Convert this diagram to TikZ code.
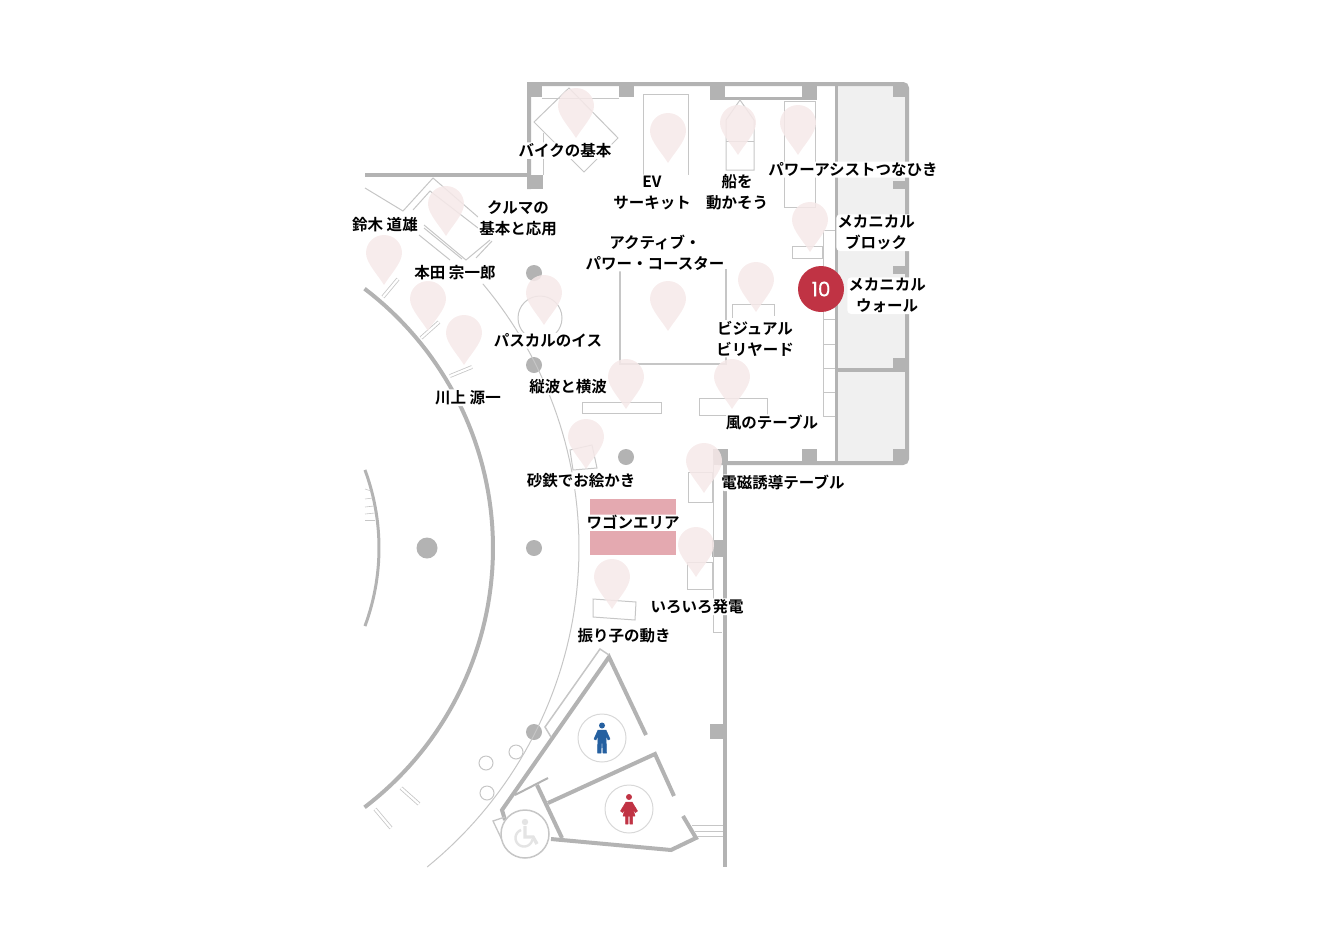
\documentclass[tikz,border=0pt]{standalone}
\usepackage{fontspec}
\usepackage{xcolor}
\setmainfont{Noto Sans CJK JP}[BoldFont=* Bold]
\newfontfamily\numfont{Poppins}[FakeBold=0.4]
\definecolor{wallgray}{HTML}{B3B3B3}
\definecolor{linegray}{HTML}{C6C6C6}
\definecolor{roomgray}{HTML}{F0F0F0}
\definecolor{pinpink}{HTML}{F6E9E9}
\definecolor{wagonpink}{HTML}{E4A9B0}
\definecolor{manblue}{HTML}{2560A0}
\definecolor{signred}{HTML}{C03344}
\tikzset{
  wall/.style={draw=wallgray,line width=4pt},
  thinline/.style={draw=linegray,line width=1pt},
  strip/.style={draw=linegray,double=white,double distance=2.2pt,line width=.8pt},
  label/.style={fill=white,rounded corners=4pt,inner sep=1pt,align=center,yshift=-.7pt,
    font=\fontsize{15.5}{21}\selectfont\bfseries},
  pinmark/.pic={
    \fill[pinpink,opacity=.85] (0,0) .. controls (-6,-10) and (-18,-22) .. (-18,-32)
      .. controls (-18,-42) and (-10,-50) .. (0,-50)
      .. controls (10,-50) and (18,-42) .. (18,-32)
      .. controls (18,-22) and (6,-10) .. (0,0);
  }
}
\begin{document}
\begin{tikzpicture}[x=1pt,y=-1pt]
\useasboundingbox (0,0) rectangle (1328,940);
%rooms
\fill[roomgray] (838,86) rectangle (906,461);
\fill[wagonpink] (590,499) rectangle (676,555);
%walls
\draw[wall] (529,189)--(529,84) [rounded corners=4pt]--(907,84)--(907,463) [sharp corners]--(718,463);
\draw[wall] (725,463)--(725,867);
\draw[wall,line width=3.5pt] (836.5,84)--(836.5,463);
\draw[wall,line width=3.5pt] (838,370)--(906,370);
\draw[wall] (365,175)--(529,175);
\draw[thinline] (542,98.5)--(619,98.5);
\draw[wall,line width=3pt] (725,98.5)--(802,98.5);
\draw[thinline] (543,133)--(543,175);
%columns
\fill[wallgray] (527,82) rectangle (542,97);
\fill[wallgray] (619,86) rectangle (634,97);
\fill[wallgray] (710,86) rectangle (725,100);
\fill[wallgray] (802,86) rectangle (817,100);
\fill[wallgray] (893,86) rectangle (906,97);
\fill[wallgray] (893,181) rectangle (906,189);
\fill[wallgray] (893,266) rectangle (906,274);
\fill[wallgray] (893,358) rectangle (906,370);
\fill[wallgray] (893,449) rectangle (906,461);
\fill[wallgray] (802,449) rectangle (817,461);
\fill[wallgray] (713,449) rectangle (728,465);
\fill[wallgray] (527,175) rectangle (543,189);
\fill[wallgray] (712,540) rectangle (723,557);
\fill[wallgray] (710,724) rectangle (723,739);
%pillars
\fill[wallgray] (534,273) circle(8);
\fill[wallgray] (534,365) circle(8);
\fill[wallgray] (626,457) circle(8);
\fill[wallgray] (534,548) circle(8);
\fill[wallgray] (427,548) circle(10.5);
\fill[wallgray] (534,732) circle(8);
%arcs
\draw[wall] plot[domain=-52.7:52.7,samples=70] ({167+326*cos(\x)},{548+326*sin(\x)});
\draw[wall,line width=3pt] plot[domain=-20.4:20.4,samples=30] ({155+224*cos(\x)},{548+224*sin(\x)});
\draw[thinline] plot[domain=-40:50.9,samples=70] ({168+411*cos(\x)},{548+411*sin(\x)});
\draw[thinline,line width=.6pt] (365,489)--(371,491);
\draw[thinline,line width=.6pt] (365,499)--(373,498);
\draw[thinline,line width=.6pt] (365,507)--(374,506);
\draw[thinline,line width=.6pt] (365,514)--(375,513);
\draw[thinline,line width=.6pt] (365,520)--(375,520);
%exhibits
\draw[thinline] (569,88)--(618,138)--(584,172)--(534,122)--cycle;
\draw[thinline] (643,205)--(643,94)--(688,94)--(688,205);
\draw[thinline] (726,170)--(726,120)--(740,100)--(754,120)--(754,170)--cycle;
\draw[thinline] (726,141)--(754,141);
\draw[thinline] (784,207)--(784,101)--(815,101)--(815,207)--cycle;
\draw[thinline] (792,246) rectangle (822,258);
\draw[thinline] (835,230)--(823,230)--(823,416)--(835,416);
\draw[thinline] (823,319)--(835,319);
\draw[thinline] (823,344)--(835,344);
\draw[thinline] (823,368)--(835,368);
\draw[thinline] (823,392)--(835,392);
\draw[thinline] (732,318)--(732,304)--(774,304)--(774,316);
\draw[thinline,line width=1.3pt] (620,270)--(620,364)--(726,364)--(726,269);
\draw[thinline] (582,402) rectangle (661,413);
\draw[thinline] (699,398) rectangle (767,415);
\draw[thinline] (570,450)--(592,445)--(597,468)--(573,470)--cycle;
\draw[thinline] (688,472) rectangle (712,502);
\draw[thinline] (687,562) rectangle (712,589);
\draw[thinline] (593,599)--(636,602)--(635,620)--(593,617)--cycle;
\draw[thinline] (713,460)--(713,632)--(722,632);
%car corner
\draw[thinline] (365,188)--(403,211)--(433,178)--(478,217);
\draw[thinline] (413,210)--(430,191)--(478,228);
\draw[thinline] (424,225)--(466,260)--(490,240);
\draw[thinline] (424,228)--(462,259);
\draw[thinline] (419,235)--(450,260);
\draw[thinline] (476,258)--(492,241);
\draw[thinline] (540,318) circle(22);
%benches
\draw[strip] (383,297)--(398,279);
\draw[strip] (421,338)--(439,322);
\draw[strip] (450,376)--(472,367);
\draw[strip] (401,788)--(419,804);
\draw[strip] (375,809)--(391,828);
%toilets
\draw[wall] (646,735)--(609,657)--(502,810)--(505,820);
\draw[thinline,line width=1.5pt] (609,655)--(600,649)--(545,727)--(551,737);
\draw[wall] (548,803)--(655,754)--(674,796);
\draw[wall] (683,816)--(696,838)--(671,850)--(551,839);
\draw[wall] (537,785)--(562,838);
\draw[wall,line width=2pt] (515,795)--(548,778);
\draw[thinline,line width=1.3pt] (505,817)--(493,821)--(502,840);
\draw[thinline] (692,825)--(723,825);
\draw[thinline] (695,831)--(723,831);
\draw[thinline] (697,836)--(723,836);
\draw[thinline] (516,752) circle(7);
\draw[thinline] (486,763) circle(7);
\draw[thinline] (487,793) circle(7);
\draw[roomgray!90!black,line width=1pt] (602,738) circle(24);
\draw[roomgray!90!black,line width=1pt] (629,809) circle(24);
%man
\fill[manblue] (602,725.5) circle(3);
\fill[manblue,line join=round,draw=manblue,line width=.5pt] (598,730)--(606,730)--(610,739)--(608,740)--(606,735)--(606.5,753)--(603,753)--(602.5,743)--(601.5,743)--(601,753)--(597.5,753)--(598,735)--(596,740)--(594,739)--cycle;
%woman
\fill[signred] (629,797) circle(3);
\fill[signred,line join=round,draw=signred,line width=.5pt] (626,802)--(632,802)--(637.5,811)--(635.5,812.5)--(633,809)--(635,816)--(632.5,816)--(632.5,824)--(629.8,824)--(629.8,816)--(628.2,816)--(628.2,824)--(625.5,824)--(625.5,816)--(623,816)--(625,809)--(622.5,812.5)--(620.5,811)--cycle;
%wheelchair
\filldraw[fill=white,draw=linegray,line width=1.5pt] (525,834) circle(24);
\fill[roomgray!95!black] (525,822) circle(3.2);
\draw[roomgray!95!black,line width=3.4pt] (525,826)--(525,837)--(533,837)--(537,844);
\draw[roomgray!95!black,line width=2.4pt] plot[domain=110:350,samples=25] ({524+8.5*cos(\x)},{838-8.5*sin(\x)});
%pins
\pic at (576,138) {pinmark};
\pic at (668,163) {pinmark};
\pic at (738,155) {pinmark};
\pic at (798,155) {pinmark};
\pic at (810,252) {pinmark};
\pic at (756,312) {pinmark};
\pic at (668,331) {pinmark};
\pic at (626,409) {pinmark};
\pic at (732,409) {pinmark};
\pic at (586,469) {pinmark};
\pic at (704,493) {pinmark};
\pic at (696,577) {pinmark};
\pic at (612,609) {pinmark};
\pic at (446,236) {pinmark};
\pic at (384,285) {pinmark};
\pic at (428,331) {pinmark};
\pic at (464,365) {pinmark};
\pic at (544,325) {pinmark};
%labels
\node[label] (bike) at (565,150) {バイクの基本};
\node[label] (ev) at (652,192) {EV\\サーキット};
\node[label] (ship) at (737,191) {船を\\動かそう};
\node[label] (assist) at (853,169) {パワーアシストつなひき};
\node[label] (block) at (876,232) {メカニカル\\ブロック};
\node[label] (car) at (518,218) {クルマの\\基本と応用};
\node[label] (suzuki) at (385,224) {鈴木 道雄};
\node[label] (honda) at (455,272) {本田 宗一郎};
\node[label] (coaster) at (655,252) {アクティブ・\\パワー・コースター};
\node[label] (mwall) at (887,295) {メカニカル\\ウォール};
\node[label] (billiard) at (755,338) {ビジュアル\\ビリヤード};
\node[label] (pascal) at (548,340) {パスカルのイス};
\node[label] (wave) at (568,386) {縦波と横波};
\node[label] (kawakami) at (468,397) {川上 源一};
\node[label] (wind) at (772,422) {風のテーブル};
\node[label] (sand) at (581,480) {砂鉄でお絵かき};
\node[label] (induction) at (783,482) {電磁誘導テーブル};
\node[label] (wagon) at (633,522) {ワゴンエリア};
\node[label] (power) at (697,606) {いろいろ発電};
\node[label] (pendulum) at (624,635) {振り子の動き};
%number
\node[circle,fill=signred,minimum size=46pt,inner sep=0pt,text=white,font=\numfont\fontsize{20}{20}\selectfont] (num) at (821,289) {10};
\end{tikzpicture}
\end{document}
